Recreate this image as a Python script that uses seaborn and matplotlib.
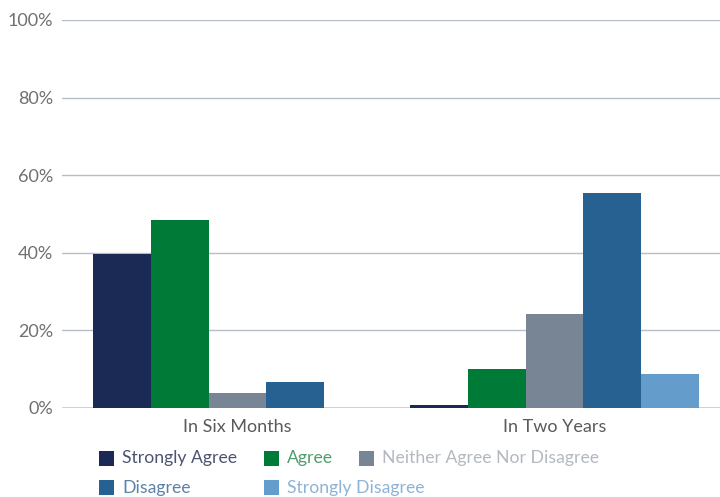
import matplotlib
matplotlib.use("Agg")
import matplotlib.pyplot as plt
import seaborn as sns
import pandas as pd
from matplotlib.patches import Rectangle

categories = ["In Six Months", "In Two Years"]
series = ["Strongly Agree", "Agree", "Neither Agree Nor Disagree", "Disagree", "Strongly Disagree"]
strongly_agree = [39.8, 0.7]
agree = [48.5, 10.0]
neither = [3.9, 24.3]
disagree = [6.8, 55.3]
strongly_disagree = [0.0, 8.8]
yticks = [0, 20, 40, 60, 80, 100]
ytick_labels = ["0%", "20%", "40%", "60%", "80%", "100%"]

colors = ["#1b2a55", "#007a37", "#778594", "#276192", "#649ccb"]
text_colors = ["#4c5472", "#4f9e6c", "#b2b9c1", "#5b82a9", "#8db3d6"]

values = [strongly_agree, agree, neither, disagree, strongly_disagree]
rows = []
for s, vals in zip(series, values):
    for c, v in zip(categories, vals):
        rows.append({"category": c, "series": s, "value": v})
df = pd.DataFrame(rows)

sns.set_theme(style="white")
plt.rcParams["font.family"] = ["Lato", "DejaVu Sans"]

fig = plt.figure(figsize=(7.2, 4.97), dpi=100)
ax = fig.add_axes([62 / 720, 1 - 408 / 497, 1 - 62 / 720, (408 - 20) / 497])

sns.barplot(data=df, x="category", y="value", hue="series", hue_order=series,
            order=categories, palette=colors, width=0.912, linewidth=0,
            saturation=1, legend=False, ax=ax, zorder=3)

ax.set_ylim(0, 100)
ax.set_xlim(-0.554, 1.522)
ax.set_yticks(yticks)
ax.set_yticklabels(ytick_labels)
ax.set_xlabel("")
ax.set_ylabel("")
for s in ax.spines.values():
    s.set_visible(False)
for y in yticks[1:]:
    ax.axhline(y, color="#b5bec8", linewidth=1.0, zorder=1)
ax.axhline(0, color="#cccccc", linewidth=2.0, zorder=2)
ax.tick_params(axis="y", length=0, pad=6.5, labelsize=13, labelcolor="#707070")
ax.tick_params(axis="x", length=0, pad=8, labelsize=13, labelcolor="#5a5a5a")

# legend (manual, row-wise flow with aligned columns)
legend_items = [
    (0, 99, 451), (1, 264, 451), (2, 359, 451),
    (3, 99, 480), (4, 264, 480),
]
for idx, x, y in legend_items:
    fig.patches.append(Rectangle((x / 720, 1 - (y + 14.5) / 497), 14.5 / 720, 14.5 / 497,
                                 transform=fig.transFigure, facecolor=colors[idx],
                                 edgecolor="none"))
    fig.text((x + 23) / 720, 1 - (y + 7.5) / 497, series[idx], fontsize=12.7,
             color=text_colors[idx], va="center", ha="left")

fig.savefig("out.png", dpi=100)
